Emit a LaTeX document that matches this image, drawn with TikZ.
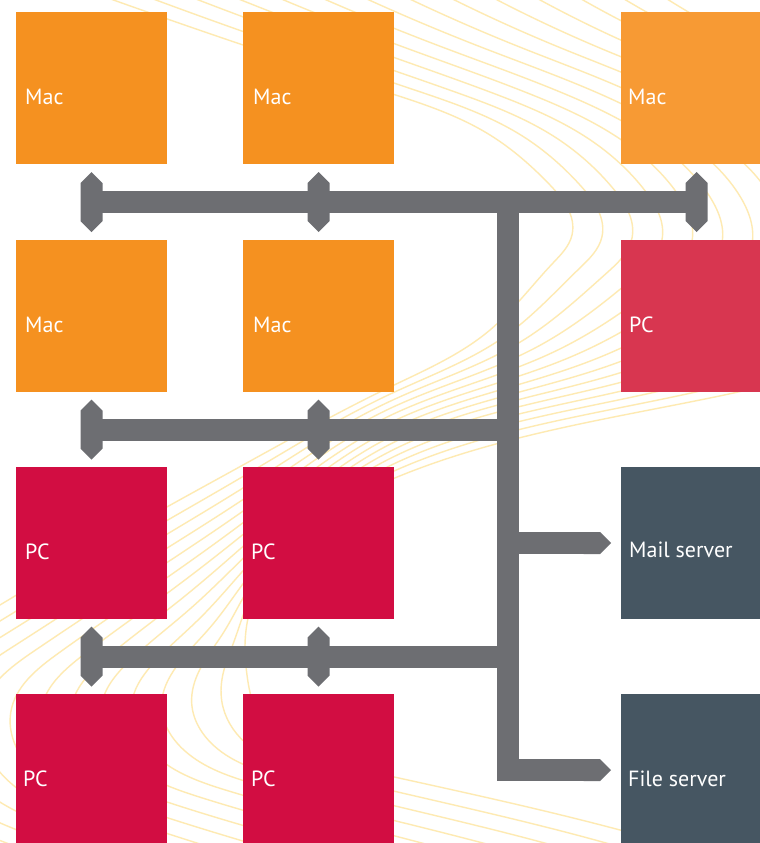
\documentclass[tikz,border=0pt]{standalone}
\usepackage{fontspec}
\setmainfont{PT Sans}
\usetikzlibrary{calc,arrows.meta,hobby}
\definecolor{macor}{RGB}{245,145,32}
\definecolor{macorlight}{RGB}{247,154,52}
\definecolor{pcred}{RGB}{210,13,66}
\definecolor{pcredlight}{RGB}{216,54,80}
\definecolor{srv}{RGB}{70,86,98}
\definecolor{busgray}{RGB}{109,110,114}
\definecolor{contour}{RGB}{254,234,178}
\tikzset{
  box/.style={draw=none, minimum width=151pt, minimum height=152pt, inner sep=0pt, outer sep=0pt},
  lbl/.style={anchor=base west, text=white, font=\fontsize{22}{26}\selectfont, inner sep=0pt},
  bus/.style={draw=busgray, line width=22pt, line cap=butt, line join=miter},
  busarrow/.style={bus, -{Triangle Cap}},
  contourline/.style={draw=contour, line width=1.4pt},
  busmark/.pic={\fill[busgray] (0,-30) -- (11,-19) -- (11,19) -- (0,30) -- (-11,19) -- (-11,-19) -- cycle;}
}
\begin{document}
\begin{tikzpicture}[x=1pt,y=-1pt]
\useasboundingbox (0,0) rectangle (760,843);
\clip (0,0) rectangle (760,843);
\fill[white] (0,0) rectangle (760,843);

% background contour lines
\foreach \k in {0,...,13}{
  \pgfmathsetmacro\t{\k/13}
  \foreach \ax/\ay/\bx/\by [count=\i] in {
      80/-12/650/-12, 243/45/760/50, 380/90/860/100, 490/135/930/160,
      550/185/962/210, 572/235/962/255, 553/263/900/330, 490/330/700/400,
      390/387/390/480, 243/465/250/610, 100/545/245/650, -60/640/247/675,
      -140/720/252/700, -120/790/275/738, -20/850/340/765, 150/920/620/830,
      300/980/800/885}{
    \coordinate (c\i) at ({(\ax)+\t*((\bx)-(\ax))},{(\ay)+\t*((\by)-(\ay))});
  }
  \draw[contourline, use Hobby shortcut] (c1) .. (c2) .. (c3) .. (c4) .. (c5) .. (c6) .. (c7) .. (c8) .. (c9) .. (c10) .. (c11) .. (c12) .. (c13) .. (c14) .. (c15) .. (c16) .. (c17);
}

% boxes
\node[box, fill=macor] (mac11) at (91.5,88) {};
\node[box, fill=macor] (mac12) at (318.5,88) {};
\node[box, fill=macorlight] (mac13) at (696.5,88) {};
\node[box, fill=macor] (mac21) at (91.5,316) {};
\node[box, fill=macor] (mac22) at (318.5,316) {};
\node[box, fill=pcredlight] (pc23) at (696.5,316) {};
\node[box, fill=pcred] (pc31) at (91.5,543) {};
\node[box, fill=pcred] (pc32) at (318.5,543) {};
\node[box, fill=srv] (mail) at (696.5,543) {};
\node[box, fill=pcred] (pc41) at (91.5,770) {};
\node[box, fill=pcred] (pc42) at (318.5,770) {};
\node[box, fill=srv] (file) at (696.5,770) {};

% labels
\node[lbl] at ([shift={(9,16.5)}]mac11.west) {Mac};
\node[lbl] at ([shift={(10,16.5)}]mac12.west) {Mac};
\node[lbl] at ([shift={(7,16.5)}]mac13.west) {Mac};
\node[lbl] at ([shift={(9,16.5)}]mac21.west) {Mac};
\node[lbl] at ([shift={(10,16.5)}]mac22.west) {Mac};
\node[lbl] at ([shift={(8,16.5)}]pc23.west) {PC};
\node[lbl] at ([shift={(9,16)}]pc31.west) {PC};
\node[lbl] at ([shift={(8,16)}]pc32.west) {PC};
\node[lbl] at ([shift={(8,14)}]mail.west) {Mail server};
\node[lbl] at ([shift={(7,16)}]pc41.west) {PC};
\node[lbl] at ([shift={(8,16)}]pc42.west) {PC};
\node[lbl] at ([shift={(7,16)}]file.west) {File server};

% bus coordinates
\coordinate (trunkx) at (507.5,0);
\coordinate (b11) at ($(mac11.south)!0.5!(mac21.north)$);
\coordinate (b12) at ($(mac12.south)!0.5!(mac22.north)$);
\coordinate (b13) at ($(mac13.south)!0.5!(pc23.north)$);
\coordinate (b21) at ($(mac21.south)!0.5!(pc31.north)$);
\coordinate (b22) at ($(mac22.south)!0.5!(pc32.north)$);
\coordinate (b31) at ($(pc31.south)!0.5!(pc41.north)$);
\coordinate (b32) at ($(pc32.south)!0.5!(pc42.north)$);
\coordinate (mailend) at ([xshift=-10pt]mail.west);
\coordinate (fileend) at ([xshift=-10pt]file.west);

% bus bars
\draw[busarrow] (b11 -| trunkx) -- (fileend -| trunkx) -- (fileend);
\draw[bus] (b11) -- (b13);
\draw[bus] (b21) -- (b21 -| trunkx);
\draw[bus] (b31) -- (b31 -| trunkx);
\draw[busarrow] (mailend -| trunkx) -- (mailend);

% bus markers
\foreach \c in {b11,b12,b13,b21,b22,b31,b32}{
  \pic at (\c) {busmark};
}
\end{tikzpicture}
\end{document}
